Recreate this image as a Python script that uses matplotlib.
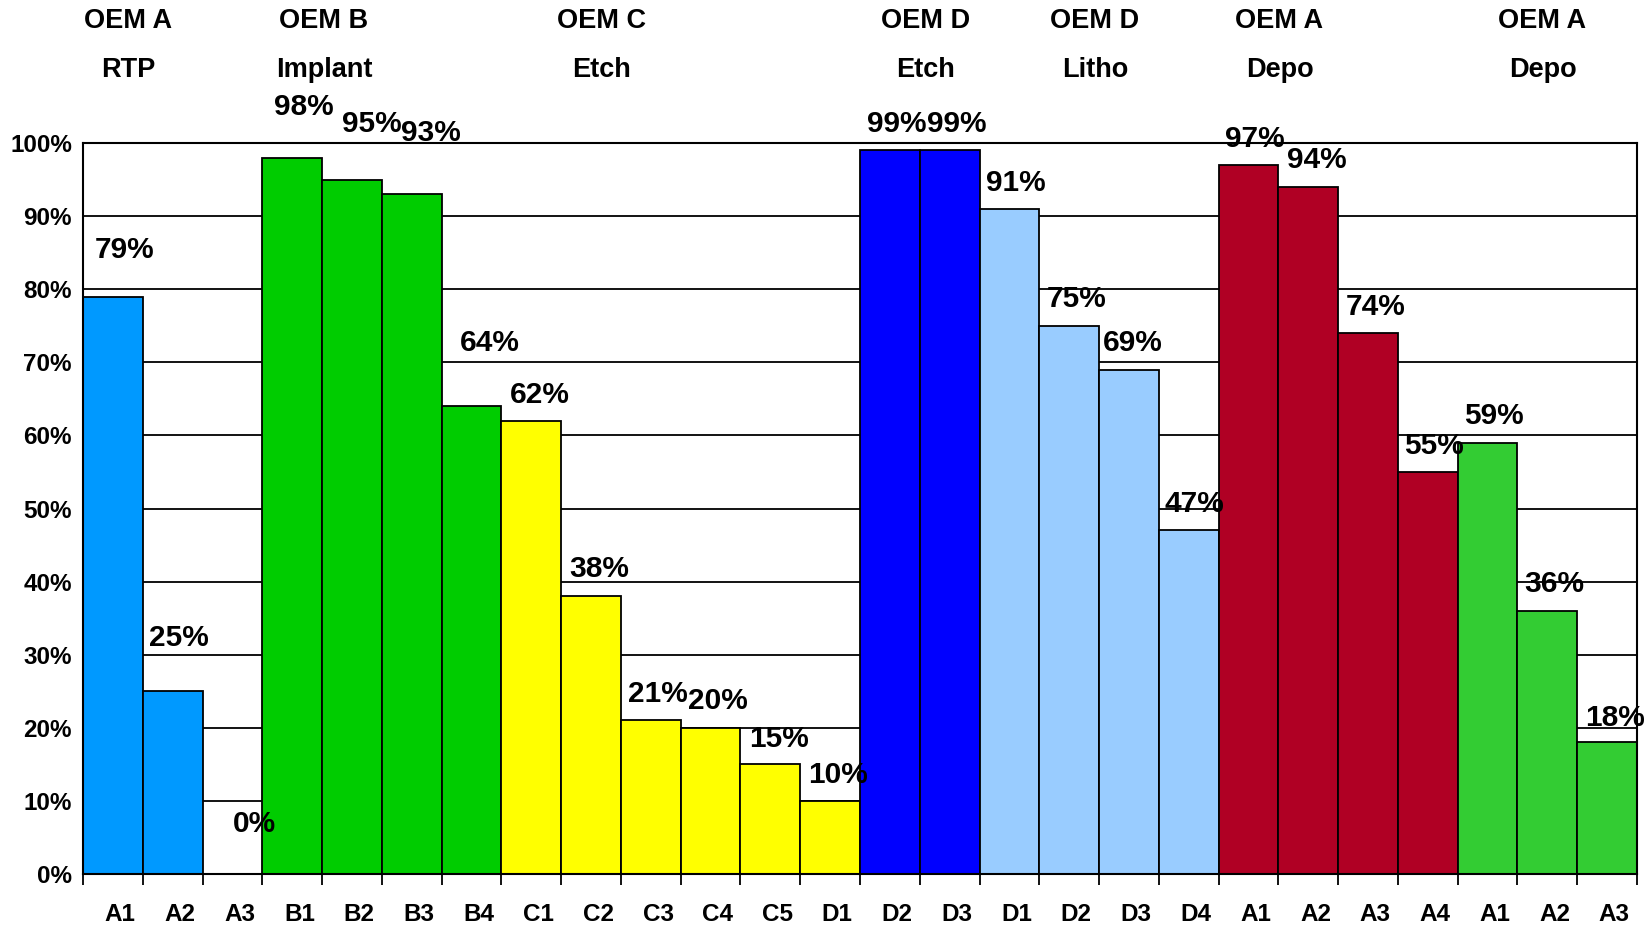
import numpy as np
import matplotlib
matplotlib.use('Agg')
import matplotlib.pyplot as plt
from matplotlib.ticker import FixedLocator, PercentFormatter

plt.rcParams['font.family'] = ['Liberation Sans', 'DejaVu Sans']
plt.rcParams['font.weight'] = 'bold'

# 장비별 값 (%)
tools = ['A1', 'A2', 'A3', 'B1', 'B2', 'B3', 'B4',
         'C1', 'C2', 'C3', 'C4', 'C5', 'D1',
         'D2', 'D3', 'D1', 'D2', 'D3', 'D4',
         'A1', 'A2', 'A3', 'A4', 'A1', 'A2', 'A3']
values = [79, 25, 0, 98, 95, 93, 64,
          62, 38, 21, 20, 15, 10,
          99, 99, 91, 75, 69, 47,
          97, 94, 74, 55, 59, 36, 18]

# 그룹별 막대 수와 색
group_sizes = [3, 4, 6, 2, 4, 4, 3]
group_colors = ['#0099FF', '#00CC00', '#FFFF00', '#0000FF', '#99CCFF', '#B00024', '#33CC33']

# 상단 헤더
oems = ['OEM A', 'OEM B', 'OEM C', 'OEM D', 'OEM D', 'OEM A', 'OEM A']
processes = ['RTP', 'Implant', 'Etch', 'Etch', 'Litho', 'Depo', 'Depo']
header_x = [0.26, 3.53, 8.17, 13.6, 16.43, 19.52, 23.92]

# 값 라벨 위치 보정 (막대 폭 단위, % 단위)
label_dx = [0.19, 0.10, 0.37, 0.20, 0.33, 0.32, 0.30,
            0.14, 0.13, 0.12, 0.12, 0.15, 0.13,
            0.12, 0.12, 0.10, 0.12, 0.07, 0.10,
            0.10, 0.15, 0.12, 0.11, 0.11, 0.12, 0.14]
label_dy = [6.3, 7.3, 6.8, 6.9, 7.6, 8.4, 8.6,
            3.5, 3.7, 3.6, 3.6, 3.5, 3.5,
            3.6, 3.6, 3.5, 3.6, 3.6, 3.6,
            3.6, 3.7, 3.6, 3.5, 3.6, 3.7, 3.4]

colors = []
for size, c in zip(group_sizes, group_colors):
    colors += [c] * size

x = np.arange(len(values))

fig = plt.figure(figsize=(16.48, 9.27), dpi=100)
ax = fig.add_axes([0.0504, 0.0572, 0.9429, 0.7885])

ax.bar(x, values, width=1.0, color=colors, edgecolor='black', linewidth=1.3, zorder=2)

ax.set_xlim(-0.5, len(values) - 0.5)
ax.set_ylim(0, 100)
ax.set_yticks(np.arange(0, 101, 10))
ax.yaxis.set_major_formatter(PercentFormatter(decimals=0))
ax.yaxis.grid(True, color='black', linewidth=1.3)
ax.set_axisbelow(True)

# x 라벨은 막대 중심보다 살짝 오른쪽
ax.set_xticks(x + 0.12)
ax.set_xticklabels(tools)
ax.xaxis.set_minor_locator(FixedLocator(np.arange(-0.5, len(values), 1.0)))
ax.tick_params(axis='x', which='major', length=0, pad=21, labelsize=17.5)
ax.tick_params(axis='x', which='minor', length=8, width=1.3, direction='out')
ax.tick_params(axis='y', length=0, pad=8, labelsize=17.5)

for s in ax.spines.values():
    s.set_linewidth(1.5)
    s.set_color('black')

# 값 라벨
for i, v in enumerate(values):
    ax.text(i + label_dx[i], v + label_dy[i], f'{v}%', ha='center', va='center',
            fontsize=21.5, fontweight='bold', zorder=5)

# 헤더
for hx, o, p in zip(header_x, oems, processes):
    ax.text(hx, 0, o, transform=ax.get_xaxis_transform(), ha='center', va='center',
            fontsize=19.5, fontweight='bold')
    ax.text(hx, 0, p, transform=ax.get_xaxis_transform(), ha='center', va='center',
            fontsize=19.5, fontweight='bold')

# 헤더 y 위치를 픽셀 기준으로 조정
fig.canvas.draw()
inv = ax.transAxes.inverted()
texts = ax.texts[len(values):]
for k, t in enumerate(texts):
    ypix = 927 - (21 if k % 2 == 0 else 70)
    yax = inv.transform((0, ypix))[1]
    t.set_transform(ax.get_xaxis_transform())
    t.set_y(yax)

fig.savefig('out.png', dpi=100)
